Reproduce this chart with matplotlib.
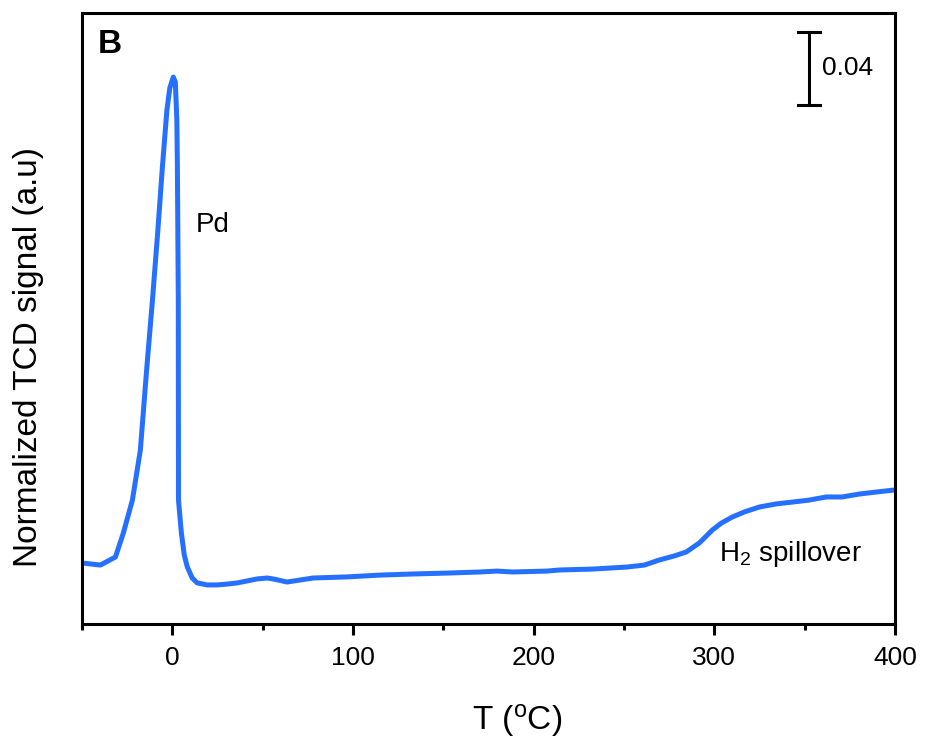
import matplotlib
matplotlib.use("Agg")
import matplotlib.pyplot as plt
from matplotlib.ticker import MultipleLocator

plt.rcParams['font.family'] = ['Liberation Sans', 'DejaVu Sans']
plt.rcParams['mathtext.fontset'] = 'custom'
plt.rcParams['mathtext.rm'] = 'Liberation Sans'
plt.rcParams['mathtext.it'] = 'Liberation Sans:italic'

# Data
temperature = [-49.7, -39.8, -31.5, -27.1, -22.1, -17.7, -14.1, -11.0, -8.0,
               -5.5, -3.0, -1.4, 0.55, 1.66, 2.5, 2.8, 3.3, 3.4, 5.0, 6.6, 8.3,
               11.0, 13.8, 19.3, 24.9, 30.4, 35.9, 41.4, 47.0, 52.5, 55.8, 63.5,
               70.7, 77.9, 96.7, 114.9, 133.1, 151.9, 170.2, 179.6, 188.4, 207.2,
               214.4, 232.6, 251.4, 261.3, 269.6, 277.9, 284.5, 291.7, 298.9,
               303.9, 309.9, 316.6, 324.9, 334.3, 343.1, 352.5, 361.9, 370.7,
               380.1, 389.5, 399.4]
signal = [0.0334, 0.0323, 0.0367, 0.0499, 0.0679, 0.0953, 0.1408, 0.1775, 0.2159,
          0.2504, 0.2816, 0.2937, 0.2997, 0.2970, 0.2760, 0.2504, 0.1775, 0.0680, 0.0499,
          0.0378, 0.0312, 0.0252, 0.0225, 0.0214, 0.0214, 0.0219, 0.0225, 0.0236, 0.0247,
          0.0252, 0.0247, 0.0230, 0.0241, 0.0252, 0.0258, 0.0268, 0.0274, 0.0279, 0.0285,
          0.0290, 0.0285, 0.0290, 0.0296, 0.0301, 0.0312, 0.0323, 0.0351, 0.0373, 0.0395,
          0.0444, 0.0515, 0.0553, 0.0586, 0.0614, 0.0641, 0.0658, 0.0668, 0.0679, 0.0696,
          0.0696, 0.0712, 0.0723, 0.0734]

xticks = [0, 100, 200, 300, 400]
scale_value = 0.04

fig = plt.figure(figsize=(9.25, 7.4), dpi=100)
ax = fig.add_axes([82/925, 1-624/740, (895-82)/925, (624-13)/740])

ax.plot(temperature, signal, color='#2570FF', lw=3.6, solid_joinstyle='round', solid_capstyle='round')

ax.set_xlim(-50, 400)
ax.set_ylim(0, 0.3348)
ax.set_xticks(xticks)
ax.xaxis.set_minor_locator(MultipleLocator(50))
ax.set_yticks([])
for s in ax.spines.values():
    s.set_linewidth(2.2)
ax.tick_params(axis='x', which='major', length=8, width=2.2, direction='out', labelsize=19, pad=8)
ax.tick_params(axis='x', which='minor', length=4.5, width=2.2, direction='out')

# scale bar
sb_x = 352.5
sb_top = 0.3244
ax.plot([sb_x, sb_x], [sb_top - scale_value, sb_top], color='black', lw=2.2)
ax.plot([sb_x - 6, sb_x + 6], [sb_top, sb_top], color='black', lw=2.2)
ax.plot([sb_x - 6, sb_x + 6], [sb_top - scale_value, sb_top - scale_value], color='black', lw=2.2)
ax.text(sb_x + 7, sb_top - scale_value / 2, f'{scale_value:.2f}', fontsize=19, ha='left', va='center')

ax.text(12.7, 0.2148, 'Pd', fontsize=20, ha='left', va='baseline')
ax.text(302.8, 0.0345, r'H$_\mathregular{2}$ spillover', fontsize=20, ha='left', va='baseline')
ax.text(-41.4, 0.3128, 'B', fontsize=24, fontweight='bold', ha='left', va='baseline')

fig.text(517/925, 1-730/740, r'T ($^\mathregular{o}$C)', fontsize=24, ha='center', va='baseline')
fig.text(29/925, 1-357/740, 'Normalized TCD signal (a.u)', fontsize=24, rotation=90, ha='center', va='center')

fig.savefig('out.png', dpi=100)
